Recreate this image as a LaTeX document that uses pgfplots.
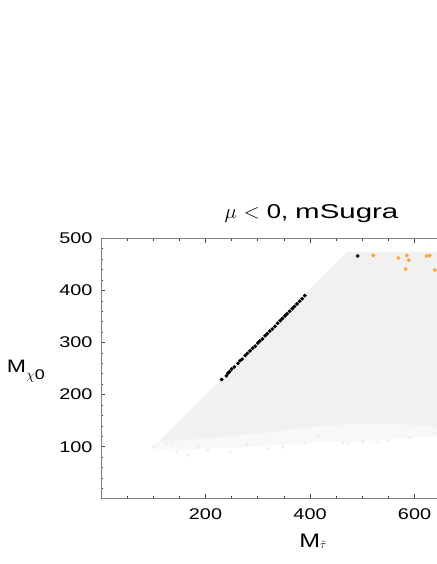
\documentclass[border=0pt]{standalone}
\usepackage{fontspec}
\setmainfont{Liberation Sans}[FakeStretch=1.28]
\usepackage{graphicx}
\usepackage{pgfplots}
\pgfplotsset{compat=1.18}

\definecolor{cloud}{HTML}{F1F1F1}
\definecolor{cloudlt}{HTML}{F8F8F8}
\definecolor{speck}{HTML}{EDEDED}
\definecolor{orng}{HTML}{FFA53A}
\definecolor{framecol}{HTML}{7F7F7F}

\begin{document}
\begin{tikzpicture}
\useasboundingbox (-101pt,-65.2pt) rectangle (335pt,498.8pt);
\begin{axis}[
    at={(0,0)}, anchor=south west,
    scale only axis,
    width=344.9pt, height=260.5pt,
    xmin=0, xmax=660, ymin=0, ymax=500,
    xtick={200,400,600},
    minor xtick={50,100,150,250,300,350,450,500,550,650},
    ytick={100,200,300,400,500},
    minor ytick={20,40,...,480},
    tick align=inside,
    major tick length=4.5pt, minor tick length=2.5pt,
    axis line style={framecol, line width=0.9pt},
    tick style={black!75, line width=0.6pt},
    /pgf/number format/assume math mode=true,
    tick label style={font=\fontsize{15.5}{16}\selectfont},
    yticklabel style={xshift=-5pt},
    xticklabel style={yshift=-6pt},
    title={$\mu$ $<$ 0, \scalebox{1.15}[1]{mSugra}},
    title style={font=\fontsize{20}{22}\selectfont, at={(rel axis cs:0,1)},
        anchor=base west, xshift=120pt, yshift=13.3pt},
    xlabel={M\raisebox{-1pt}{\fontsize{11}{11}\selectfont$\tilde\tau$}},
    xlabel style={font=\fontsize{19.5}{20}\selectfont, at={(rel axis cs:0.565,0)},
        anchor=base west, yshift=-48.2pt},
    ylabel={M\raisebox{-7pt}{\fontsize{14}{14}\selectfont$\chi$0}},
    ylabel style={font=\fontsize{18}{20}\selectfont, rotate=-90, at={(rel axis cs:0,0.483)},
        anchor=base west, xshift=-97.7pt},
]
% outer, sparser part of the scanned region
\addplot[draw=none, fill=cloudlt] coordinates {
    (100,100) (472,475) (660,475) (660,118) (600,118) (500,110)
    (400,108) (300,100) (200,97) (150,94) (110,95)
} -- cycle;
% dense part
\addplot[draw=none, fill=cloud] coordinates {
    (112,110) (470,473) (660,473) (660,135) (600,142) (500,145)
    (400,138) (300,125) (200,116) (150,112)
} -- cycle;
% loose points along the lower fringe
\addplot[only marks, mark=*, mark size=1.5pt, color=speck] coordinates {
    (101,99) (122,115) (124,107) (138,107) (145,90) (167,84) (186,98)
    (247,90) (318,97) (348,99) (390,107) (415,119) (463,107) (473,107)
    (501,109) (530,109) (549,111) (591,117) (639,126) (280,104) (205,93)
};
% black band
\addplot[only marks, mark=*, mark size=1.7pt, color=black] coordinates {
    (231,229) (240,236) (243,241) (246,244) (250,249) (255,253) (262,260)
    (266,265) (270,268) (276,275) (280,279) (285,284) (290,289) (295,293)
    (300,299) (304,303) (309,307) (314,313) (318,317) (323,322) (328,326)
    (333,331) (338,337) (343,342) (347,346) (352,351) (356,355) (361,360)
    (366,365) (370,369) (375,374) (380,379) (385,384) (390,390)
    (491,466)
};
% orange points
\addplot[only marks, mark=*, mark size=1.8pt, color=orng] coordinates {
    (521,467) (569,462) (585,467) (589,458) (583,441) (623,466) (629,467)
    (639,439)
};
\end{axis}
\end{tikzpicture}
\end{document}
